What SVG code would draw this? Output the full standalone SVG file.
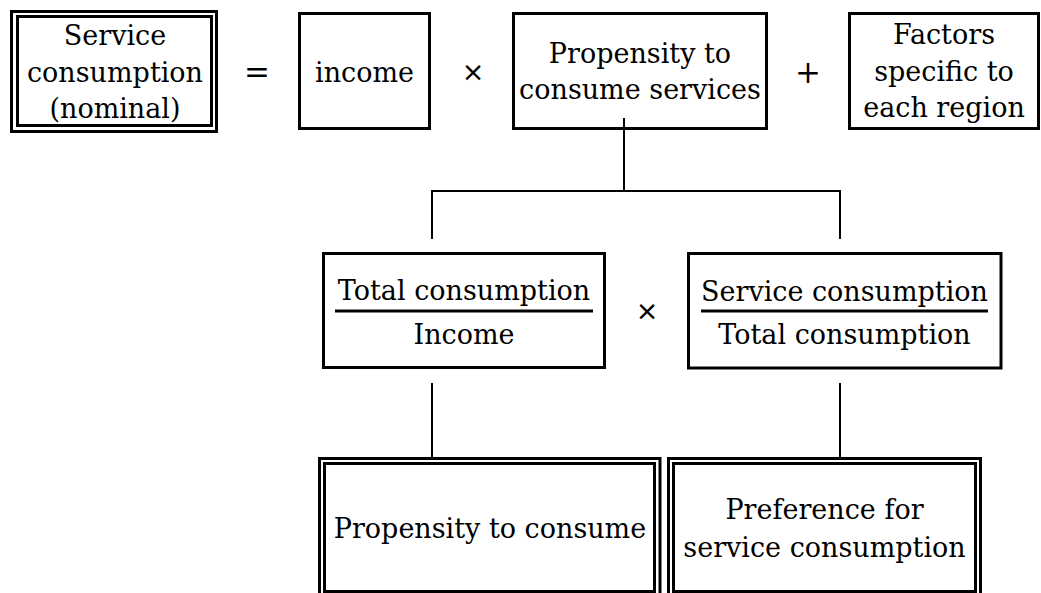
<svg xmlns="http://www.w3.org/2000/svg" width="1041" height="593" viewBox="0 0 1041 593">
<style>
  .box { fill: #fff; stroke: #000; stroke-width: 3; }
  .dbl { fill: none; stroke: #000; stroke-width: 3; }
  .t { font-family: "DejaVu Serif", "Liberation Serif", serif; font-size: 27px; fill: #000; text-anchor: middle; }
  .op { font-family: "DejaVu Serif", "Liberation Serif", serif; font-size: 31px; fill: #000; text-anchor: middle; }
  .x { font-family: "DejaVu Sans", "Liberation Sans", sans-serif; font-size: 27px; fill: #000; text-anchor: middle; }
  .conn { fill: none; stroke: #000; stroke-width: 2; }
  .frac { stroke: #000; stroke-width: 3; }
</style>
<rect width="1041" height="593" fill="#fff"/>

<g id="connectors">
  <path class="conn" d="M624,118 V191 M432,239 V191 H840 V239"/>
  <path class="conn" d="M432,383 V458 M840,383 V458"/>
</g>

<g id="service-consumption-nominal">
  <rect class="dbl" x="11.5" y="11.5" width="205" height="120"/>
  <rect class="dbl" x="17.5" y="16.5" width="194" height="109"/>
  <text class="t" x="115" y="45">Service</text>
  <text class="t" x="115" y="82">consumption</text>
  <text class="t" x="115" y="118">(nominal)</text>
</g>

<text class="op" x="257" y="83">=</text>

<g id="income">
  <rect class="box" x="299.5" y="13.5" width="130" height="115"/>
  <text class="t" x="364.5" y="82">income</text>
</g>

<text class="x" x="473" y="81">×</text>

<g id="propensity-services">
  <rect class="box" x="513.5" y="13.5" width="253" height="115" style="fill:none"/>
  <text class="t" x="640" y="63">Propensity to</text>
  <text class="t" x="640" y="99">consume services</text>
</g>

<text class="op" x="808" y="83">+</text>

<g id="factors-region">
  <rect class="box" x="849.5" y="13.5" width="189" height="115"/>
  <text class="t" x="944" y="44">Factors</text>
  <text class="t" x="944" y="81">specific to</text>
  <text class="t" x="944" y="117">each region</text>
</g>

<g id="total-over-income">
  <rect class="box" x="323.5" y="253.5" width="281" height="114"/>
  <text class="t" x="464" y="300">Total consumption</text>
  <line class="frac" x1="335" y1="311" x2="593" y2="311"/>
  <text class="t" x="464" y="344">Income</text>
</g>

<text class="x" x="647" y="320">×</text>

<g id="service-over-total">
  <rect class="box" x="688.5" y="253.5" width="312.5" height="114.5"/>
  <text class="t" x="844.5" y="301">Service consumption</text>
  <line class="frac" x1="701" y1="311" x2="988" y2="311"/>
  <text class="t" x="844.5" y="344">Total consumption</text>
</g>

<g id="propensity-to-consume">
  <rect class="dbl" x="319.5" y="458.5" width="340.5" height="140" style="fill:#fff"/>
  <rect class="dbl" x="324.5" y="463.5" width="330" height="128"/>
  <text class="t" x="490" y="538">Propensity to consume</text>
</g>

<g id="preference-service">
  <rect class="dbl" x="668.5" y="458.5" width="312" height="140" style="fill:#fff"/>
  <rect class="dbl" x="673.5" y="463.5" width="302" height="128"/>
  <text class="t" x="824.5" y="519">Preference for</text>
  <text class="t" x="824.5" y="557">service consumption</text>
</g>
</svg>
